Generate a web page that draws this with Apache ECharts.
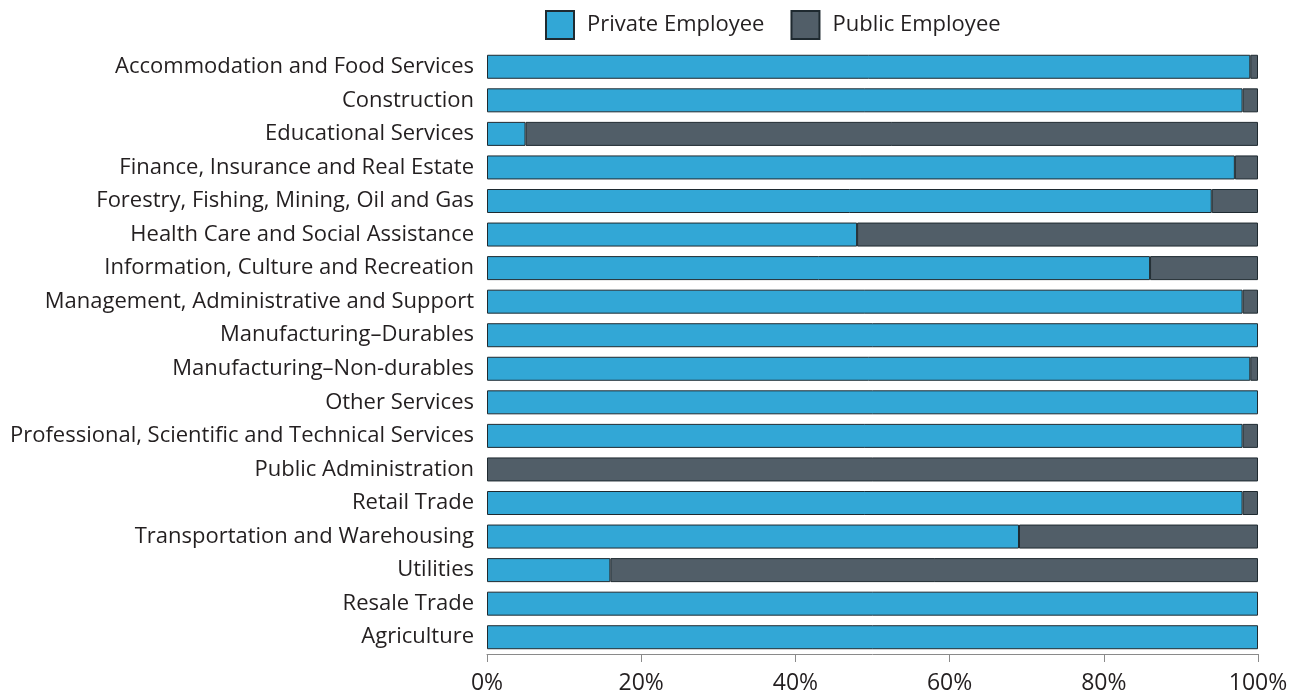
<!DOCTYPE html>
<html>
<head>
<meta charset="utf-8">
<script src="https://cdn.jsdelivr.net/npm/echarts@6/dist/echarts.min.js"></script>
<style>
  html, body { margin: 0; padding: 0; background: #ffffff; }
  #chart { width: 1299px; height: 695px; }
</style>
</head>
<body>
<div id="chart"></div>
<script>
// Industries, listed top to bottom
const industries = [
  "Accommodation and Food Services",
  "Construction",
  "Educational Services",
  "Finance, Insurance and Real Estate",
  "Forestry, Fishing, Mining, Oil and Gas",
  "Health Care and Social Assistance",
  "Information, Culture and Recreation",
  "Management, Administrative and Support",
  "Manufacturing\u2013Durables",
  "Manufacturing\u2013Non-durables",
  "Other Services",
  "Professional, Scientific and Technical Services",
  "Public Administration",
  "Retail Trade",
  "Transportation and Warehousing",
  "Utilities",
  "Resale Trade",
  "Agriculture"
];

// Share of employees (%) per industry
const privateShare = [99, 98, 5, 97, 94, 48, 86, 98, 100, 99, 100, 98, 0, 98, 69, 16, 100, 100];
const publicShare  = [1, 2, 95, 3, 6, 52, 14, 2, 0, 1, 0, 2, 100, 2, 31, 84, 0, 0];

const xTicks = [0, 20, 40, 60, 80, 100];

const FONT = "Open Sans";
const TEXT = "#231f20";

// empty segments are left out so they draw no outline
const seg = arr => arr.map(v => (v === 0 ? "-" : v));

const chart = echarts.init(document.getElementById("chart"), null, { renderer: "canvas" });

chart.setOption({
  animation: false,
  backgroundColor: "#ffffff",
  textStyle: { fontFamily: FONT, color: TEXT },
  legend: {
    top: 5,
    left: 540,
    itemWidth: 28,
    itemHeight: 28,
    itemGap: 26,
    textStyle: { fontFamily: FONT, fontSize: 22, color: TEXT, padding: [0, 0, 0, 8] },
    data: [
      { name: "Private Employee", icon: "rect" },
      { name: "Public Employee", icon: "rect" }
    ]
  },
  grid: { left: 487, right: 41, top: 50, bottom: 41, containLabel: false },
  xAxis: {
    type: "value",
    min: xTicks[0],
    max: xTicks[xTicks.length - 1],
    interval: 20,
    axisLine: { show: true, lineStyle: { color: "#8a8a8a", width: 1 } },
    axisTick: { show: true, length: 8, lineStyle: { color: "#8a8a8a" } },
    splitLine: { show: false },
    axisLabel: {
      fontFamily: FONT, fontSize: 23, color: TEXT, margin: 18,
      formatter: v => v + "%"
    }
  },
  yAxis: {
    type: "category",
    inverse: true,
    data: industries,
    axisLine: { show: false },
    axisTick: { show: false },
    axisLabel: { fontFamily: FONT, fontSize: 22, color: TEXT, margin: 13, padding: [3, 0, 0, 0] }
  },
  series: [
    {
      name: "Private Employee",
      type: "bar",
      stack: "share",
      data: seg(privateShare),
      barWidth: 24,
      itemStyle: { color: "#32a7d6", borderColor: "#1f2a30", borderWidth: 1 }
    },
    {
      name: "Public Employee",
      type: "bar",
      stack: "share",
      data: seg(publicShare),
      barWidth: 24,
      itemStyle: { color: "#515e68", borderColor: "#1f2a30", borderWidth: 1 }
    }
  ]
});
</script>
</body>
</html>
